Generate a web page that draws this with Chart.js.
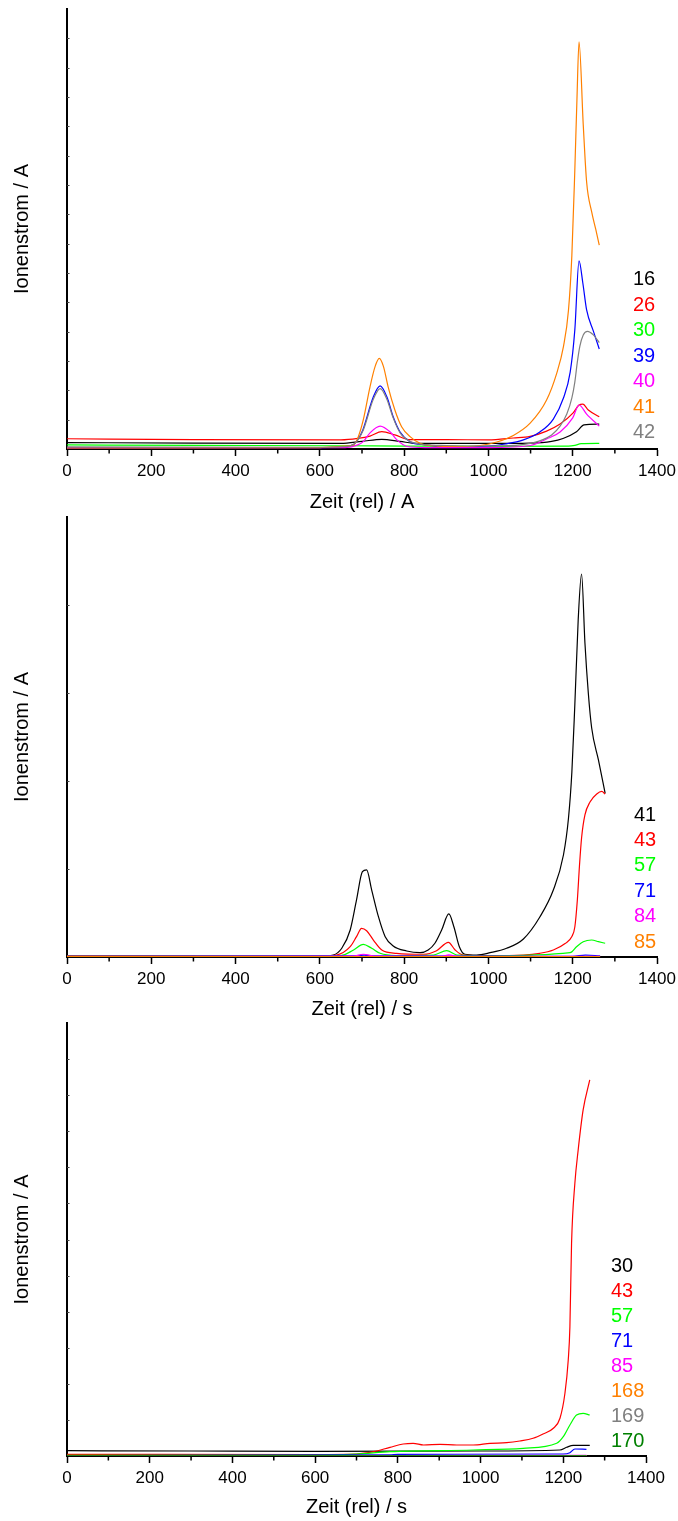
<!DOCTYPE html>
<html>
<head>
<meta charset="utf-8">
<script src="https://cdn.jsdelivr.net/npm/chart.js@4/dist/chart.umd.min.js"></script>
<style>
  html, body { margin: 0; padding: 0; background: #fff; }
  body { width: 678px; height: 1521px; position: relative; overflow: hidden; font-family: 'Liberation Sans', Arial, sans-serif; }
  canvas { position: absolute; left: 0; }
  .leg { position: absolute; font-size: 20px; font-family: 'Liberation Sans', Arial, sans-serif; white-space: pre; }
</style>
</head>
<body>
<canvas id="c1" width="678" height="513" style="top:0px;width:678px;height:513px"></canvas>
<canvas id="c2" width="678" height="506" style="top:513px;width:678px;height:506px"></canvas>
<canvas id="c3" width="678" height="502" style="top:1019px;width:678px;height:502px"></canvas>
<div id="leg1" class="leg" style="left:633px;top:266.3px;line-height:25.5px"></div>
<div id="leg2" class="leg" style="left:634px;top:801.5px;line-height:25.4px"></div>
<div id="leg3" class="leg" style="left:611px;top:1252.7px;line-height:25px"></div>
<script>
// ---------- Chart 1 (Zeit (rel) / A) ----------
const c1Labels = ['16', '26', '30', '39', '40', '41', '42'];
const c1Colors = ['#000000', '#ff0000', '#00ff00', '#0000ff', '#ff00ff', '#ff8000', '#808080'];
const c1_t16 = [0, 300, 650, 700, 747, 790, 830, 1000, 1100, 1150, 1177, 1209, 1227, 1263];
const c1_v16 = [0.22, 0.20, 0.19, 0.26, 0.33, 0.26, 0.19, 0.19, 0.20, 0.26, 0.36, 0.59, 0.82, 0.85];
const c1_t26 = [0, 300, 650, 690, 719, 747, 778, 814, 900, 1000, 1059, 1099, 1138, 1170, 1201, 1215, 1224, 1237, 1263];
const c1_v26 = [0.35, 0.32, 0.31, 0.36, 0.44, 0.59, 0.48, 0.32, 0.32, 0.31, 0.375, 0.43, 0.61, 0.85, 1.23, 1.50, 1.53, 1.33, 1.10];
const c1_t30 = [0, 300, 650, 800, 1000, 1190, 1205, 1220, 1263];
const c1_v30 = [0.14, 0.125, 0.11, 0.10, 0.09, 0.10, 0.125, 0.18, 0.19];
const c1_t39 = [0, 600, 660, 680, 691, 702, 727, 743, 759, 774, 790, 814, 850, 900, 1000, 1040, 1083, 1122, 1154, 1178, 1194, 1205, 1215, 1224, 1233, 1249, 1263];
const c1_v39 = [0.05, 0.05, 0.085, 0.15, 0.34, 0.65, 1.78, 2.15, 1.78, 1.10, 0.59, 0.25, 0.14, 0.085, 0.10, 0.17, 0.31, 0.58, 1.02, 1.74, 2.62, 4.06, 6.41, 5.66, 4.74, 4.02, 3.41];
const c1_t40 = [0, 660, 690, 703, 719, 743, 767, 783, 807, 850, 1000, 1100, 1138, 1170, 1200, 1215, 1233, 1263];
const c1_v40 = [0.034, 0.05, 0.14, 0.25, 0.55, 0.78, 0.58, 0.31, 0.085, 0.05, 0.05, 0.12, 0.34, 0.58, 1.06, 1.50, 1.19, 0.78];
const c1_t41 = [0, 600, 660, 680, 691, 703, 719, 731, 741, 751, 762, 778, 794, 814, 838, 880, 950, 980, 1020, 1059, 1099, 1138, 1162, 1178, 1190, 1198, 1205, 1210, 1215, 1225, 1233, 1245, 1255, 1263];
const c1_v41 = [0.034, 0.05, 0.10, 0.14, 0.41, 0.99, 2.12, 2.81, 3.09, 2.81, 2.12, 1.33, 0.76, 0.42, 0.19, 0.10, 0.085, 0.12, 0.24, 0.46, 0.88, 1.67, 2.58, 3.49, 4.74, 6.61, 9.51, 11.9, 13.88, 11.05, 9.10, 8.08, 7.47, 6.95];
const c1_t42 = [0, 600, 660, 680, 702, 727, 743, 759, 774, 790, 814, 850, 900, 1000, 1080, 1120, 1150, 1170, 1186, 1198, 1205, 1211, 1217, 1225, 1235, 1249, 1263];
const c1_v42 = [0.07, 0.06, 0.08, 0.15, 0.61, 1.70, 2.06, 1.70, 1.06, 0.56, 0.26, 0.15, 0.12, 0.10, 0.15, 0.27, 0.48, 0.78, 1.19, 1.74, 2.28, 2.97, 3.51, 3.89, 4.01, 3.89, 3.63];

// ---------- Chart 2 (Zeit (rel) / s) ----------
const c2Labels = ['41', '43', '57', '71', '84', '85'];
const c2Colors = ['#000000', '#ff0000', '#00ff00', '#0000ff', '#ff00ff', '#ff8000'];
const c2_t41 = [0, 600, 632, 652, 672, 687, 701, 711, 723, 739, 755, 774, 806, 838, 857, 873, 889, 906, 918, 931, 944, 972, 1004, 1043, 1083, 1122, 1154, 1178, 1190, 1198, 1205, 1213, 1221, 1229, 1237, 1245, 1261, 1277];
const c2_v41 = [0.011, 0.011, 0.023, 0.099, 0.307, 0.648, 0.969, 0.989, 0.761, 0.458, 0.231, 0.125, 0.068, 0.049, 0.080, 0.156, 0.307, 0.489, 0.344, 0.117, 0.031, 0.023, 0.049, 0.099, 0.205, 0.455, 0.761, 1.159, 1.580, 2.102, 2.864, 3.830, 4.352, 3.568, 3.0, 2.602, 2.239, 1.860];
const c2_t43 = [0, 620, 640, 672, 687, 699, 711, 727, 747, 782, 846, 877, 905, 921, 940, 1000, 1083, 1122, 1154, 1182, 1198, 1205, 1211, 1216, 1221, 1229, 1241, 1257, 1269, 1277];
const c2_v43 = [0.017, 0.017, 0.023, 0.117, 0.231, 0.326, 0.299, 0.193, 0.080, 0.042, 0.031, 0.072, 0.167, 0.080, 0.023, 0.017, 0.023, 0.042, 0.08, 0.153, 0.233, 0.341, 0.648, 1.034, 1.352, 1.614, 1.761, 1.852, 1.881, 1.852];
const c2_t57 = [0, 650, 680, 703, 723, 743, 780, 870, 901, 925, 1000, 1194, 1209, 1225, 1245, 1261, 1277];
const c2_v57 = [0.011, 0.017, 0.080, 0.144, 0.099, 0.042, 0.017, 0.023, 0.072, 0.023, 0.014, 0.049, 0.117, 0.174, 0.193, 0.174, 0.156];
const c2_t71 = [0, 690, 705, 720, 1200, 1230, 1265];
const c2_v71 = [0.008, 0.014, 0.022, 0.014, 0.008, 0.022, 0.014];
const c2_t84 = [0, 680, 703, 730, 890, 906, 925, 1265];
const c2_v84 = [0.006, 0.010, 0.031, 0.010, 0.008, 0.025, 0.008, 0.006];
const c2_t85 = [0, 1265];
const c2_v85 = [0.004, 0.004];

// ---------- Chart 3 (Zeit (rel) / s) ----------
const c3Labels = ['30', '43', '57', '71', '85', '168', '169', '170'];
const c3Colors = ['#000000', '#ff0000', '#00ff00', '#0000ff', '#ff00ff', '#ff8000', '#808080', '#008000'];
const c3_t30 = [0, 300, 600, 1000, 1192, 1208, 1224, 1264];
const c3_v30 = [0.147, 0.139, 0.130, 0.139, 0.166, 0.241, 0.297, 0.297];
const c3_t43 = [0, 600, 700, 741, 781, 813, 837, 862, 902, 942, 982, 1023, 1063, 1095, 1127, 1151, 1176, 1192, 1204, 1212, 1216, 1220, 1228, 1236, 1248, 1264];
const c3_v43 = [0.047, 0.042, 0.055, 0.119, 0.241, 0.333, 0.352, 0.305, 0.324, 0.305, 0.305, 0.352, 0.369, 0.416, 0.491, 0.610, 0.768, 1.045, 1.738, 2.661, 3.584, 5.895, 7.558, 8.481, 9.590, 10.421];
const c3_t57 = [0, 600, 700, 781, 982, 1103, 1184, 1200, 1216, 1232, 1248, 1264];
const c3_v57 = [0.019, 0.028, 0.055, 0.119, 0.166, 0.213, 0.352, 0.535, 0.859, 1.136, 1.183, 1.136];
const c3_t71 = [0, 780, 800, 1200, 1216, 1228, 1256];
const c3_v71 = [0.014, 0.030, 0.047, 0.055, 0.091, 0.194, 0.186];
const c3_t85 = [0, 1256];
const c3_v85 = [0.008, 0.019];
const c3_t168 = [0, 1256];
const c3_v168 = [0.006, 0.006];
const c3_t169 = [0, 1256];
const c3_v169 = [0.005, 0.005];
const c3_t170 = [0, 1256];
const c3_v170 = [0.004, 0.004];

const xTicks = [0, 200, 400, 600, 800, 1000, 1200, 1400];
const xMinorTicks = [100, 300, 500, 700, 900, 1100, 1300];

const FONT = "'Liberation Sans', Arial, sans-serif";
Chart.defaults.font.family = FONT;
Chart.defaults.color = '#000';

const minorTickPlugin = {
  id: 'minorTicks',
  afterDraw(chart) {
    const {ctx, chartArea} = chart;
    const x = chart.scales.x, y = chart.scales.y;
    ctx.save();
    ctx.strokeStyle = '#000';
    ctx.lineWidth = 1.5;
    xMinorTicks.forEach(v => {
      const px = x.getPixelForValue(v);
      ctx.beginPath(); ctx.moveTo(px, chartArea.bottom); ctx.lineTo(px, chartArea.bottom + 4.5); ctx.stroke();
    });
    ctx.strokeStyle = '#444';
    ctx.lineWidth = 1;
    for (let v = 1; v < y.max; v++) {
      const py = Math.round(y.getPixelForValue(v)) + 0.5;
      ctx.beginPath(); ctx.moveTo(chartArea.left, py); ctx.lineTo(chartArea.left + 2.5, py); ctx.stroke();
    }
    ctx.restore();
  }
};

function mkSet(label, color, t, v, idx) {
  return {
    label, borderColor: color, backgroundColor: color,
    data: t.map((tt, i) => ({x: tt, y: v[i]})),
    borderWidth: 1.2, pointRadius: 0, fill: false,
    cubicInterpolationMode: 'monotone', order: -idx
  };
}

function mkChart(id, cfg) {
  const canvasH = cfg.canvasH;
  return new Chart(document.getElementById(id), {
    type: 'line',
    data: { datasets: cfg.sets },
    plugins: [minorTickPlugin],
    options: {
      responsive: false, animation: false, devicePixelRatio: 1,
      layout: { padding: { top: cfg.padTop, right: cfg.padRight, bottom: 0, left: 0 } },
      plugins: { legend: { display: false }, tooltip: { enabled: false } },
      scales: {
        x: {
          type: 'linear', min: 0, max: 1400,
          afterBuildTicks: (s) => { s.ticks = xTicks.map(v => ({value: v})); },
          afterFit: (s) => { s.height = canvasH - cfg.plotBottom; },
          grid: { display: true, drawOnChartArea: false, drawTicks: true, tickLength: 7, tickWidth: 1.5, tickColor: '#000' },
          border: { display: true, color: '#000', width: 2 },
          ticks: { autoSkip: false, maxRotation: 0, padding: 0, color: '#000',
                   callback: (v) => String(v),
                   font: { size: 17, lineHeight: 1.8 } },
          title: { display: true, text: cfg.xTitle, color: '#000', font: { size: 20, lineHeight: 1 }, padding: { top: 0, bottom: cfg.titlePad } }
        },
        y: {
          type: 'linear', min: 0, max: cfg.yMax,
          afterFit: (s) => { s.width = cfg.plotLeft; },
          grid: { display: false },
          border: { display: true, color: '#000', width: 2 },
          ticks: { display: false, stepSize: 1 },
          title: { display: true, text: 'Ionenstrom / A', color: '#000', font: { size: 20, lineHeight: 1 }, padding: { top: 12, bottom: 0 } }
        }
      }
    }
  });
}

const c1Series = [[c1_t16, c1_v16], [c1_t26, c1_v26], [c1_t30, c1_v30], [c1_t39, c1_v39], [c1_t40, c1_v40], [c1_t41, c1_v41], [c1_t42, c1_v42]];
const c2Series = [[c2_t41, c2_v41], [c2_t43, c2_v43], [c2_t57, c2_v57], [c2_t71, c2_v71], [c2_t84, c2_v84], [c2_t85, c2_v85]];
const c3Series = [[c3_t30, c3_v30], [c3_t43, c3_v43], [c3_t57, c3_v57], [c3_t71, c3_v71], [c3_t85, c3_v85], [c3_t168, c3_v168], [c3_t169, c3_v169], [c3_t170, c3_v170]];

mkChart('c1', {
  canvasH: 513, plotBottom: 449, plotLeft: 67, padTop: 9, padRight: 21, yMax: 15, titlePad: 0.3,
  xTitle: 'Zeit (rel) / A',
  sets: c1Series.map((s, i) => mkSet(c1Labels[i], c1Colors[i], s[0], s[1], i))
});
mkChart('c2', {
  canvasH: 506, plotBottom: 957 - 513, plotLeft: 67, padTop: 4, padRight: 21, yMax: 5, titlePad: 0,
  xTitle: 'Zeit (rel) / s',
  sets: c2Series.map((s, i) => mkSet(c2Labels[i], c2Colors[i], s[0], s[1], i))
});
mkChart('c3', {
  canvasH: 502, plotBottom: 1456 - 1019, plotLeft: 67, padTop: 4, padRight: 32, yMax: 12, titlePad: 3.5,
  xTitle: 'Zeit (rel) / s',
  sets: c3Series.map((s, i) => mkSet(c3Labels[i], c3Colors[i], s[0], s[1], i))
});

function fillLegend(id, labels, colors) {
  const el = document.getElementById(id);
  labels.forEach((l, i) => {
    const d = document.createElement('div');
    d.textContent = l;
    d.style.color = colors[i];
    el.appendChild(d);
  });
}
fillLegend('leg1', c1Labels, c1Colors);
fillLegend('leg2', c2Labels, c2Colors);
fillLegend('leg3', c3Labels, c3Colors);
</script>
</body>
</html>
